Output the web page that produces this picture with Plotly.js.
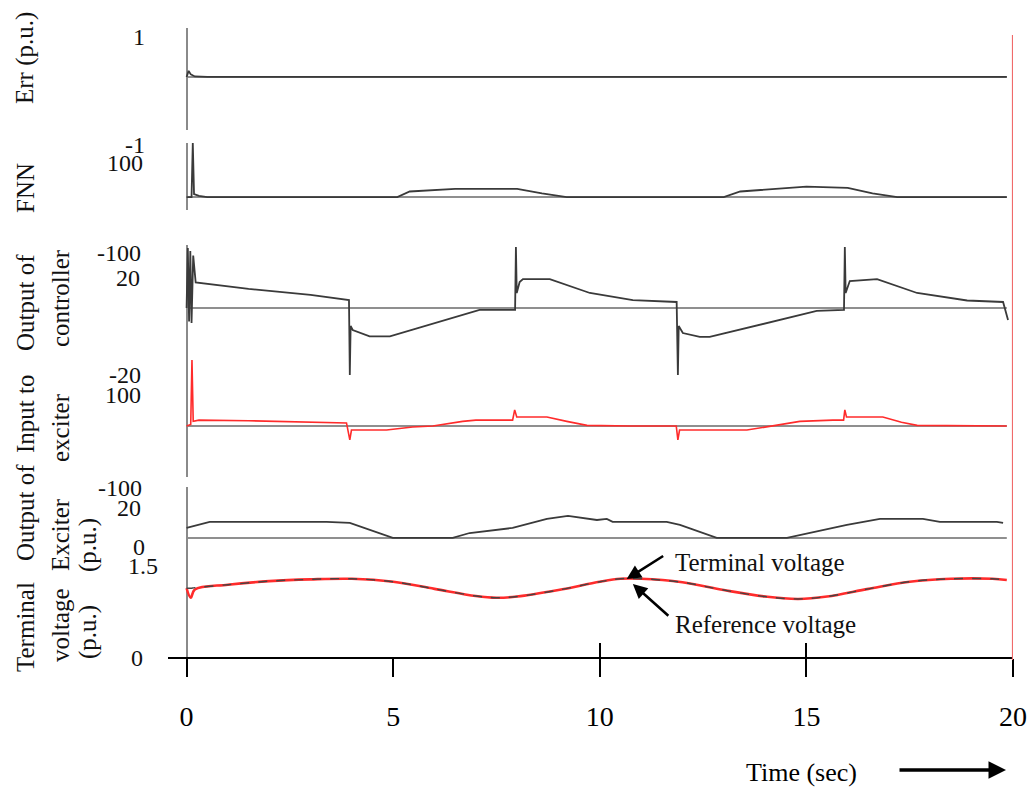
<!DOCTYPE html>
<html>
<head>
<meta charset="utf-8">
<script src="https://cdn.plot.ly/plotly-3.0.1.min.js"></script>
<style>html,body{margin:0;padding:0;background:#fff;}#chart{width:1030px;height:789px;}</style>
</head>
<body>
<div id="chart"></div>
<script>
// ---------------- DATA ----------------
// Err (p.u.)
const tErr = [0, 0.05, 0.1, 0.2, 0.5, 19.85];
const errVals = [0, 0.12, 0.05, 0.01, 0, 0];

// FNN
const tFnn = [0, 0.12, 0.15, 0.18, 0.3, 0.5, 5.1, 5.4, 6.5, 8.0, 8.6, 9.2, 13.0, 13.4, 15.0, 16.0, 16.6, 17.2, 19.85];
const fnnVals = [0, 0, 146, 8, 3, 0, 0, 15, 22, 22, 10, 0, 0, 15, 28, 25, 10, 0, 0];

// Output of controller
const tCtrl = [0, 0.03, 0.06, 0.09, 0.12, 0.16, 0.22, 1.5, 3.0, 3.93, 3.95, 3.97, 4.02, 4.43, 4.92, 7.09, 7.95, 7.97, 7.99, 8.06, 8.14, 8.79, 9.76, 10.8, 11.86, 11.89, 11.91, 12.01, 12.42, 12.66, 15.25, 15.91, 15.93, 15.95, 16.05, 16.71, 17.68, 18.89, 19.76, 19.88];
const ctrlVals = [0, 40, -9, 38, -10, 35, 17, 12.7, 8.7, 5.3, -44.7, -12, -14.7, -19, -19, -1.3, -1.3, 40.7, 10, 17.3, 19.3, 19.3, 10, 5.3, 4, -44.7, -12, -16.7, -19.3, -19.3, -2, -1.3, 40.7, 10, 18, 19.3, 10, 5, 4, -8];

// Input to exciter
const tIn = [0, 0.1, 0.13, 0.16, 0.3, 1.5, 3.87, 3.95, 3.99, 4.84, 5.47, 5.96, 6.68, 7.0, 7.89, 7.94, 7.99, 8.72, 9.2, 9.69, 10.73, 11.85, 11.89, 11.93, 13.56, 14.04, 14.84, 15.64, 15.9, 15.93, 15.97, 16.85, 17.3, 17.68, 19.85];
const inVals = [0, 5, 213, 15, 19, 17, 10, -45, -13, -13, -3, 0, 15, 19, 19, 52, 29, 29, 15, 2, 0, 0, -45, -13, -13, -2, 15, 19, 19, 52, 29, 29, 12, 2, 0];

// Output of exciter (p.u.)
const tExc = [0, 0.56, 3.39, 3.95, 4.99, 6.44, 6.85, 7.89, 8.72, 9.23, 9.93, 10.17, 10.31, 11.62, 11.94, 12.83, 14.53, 15.4, 15.98, 16.78, 17.82, 18.23, 19.61, 19.76];
const excVals = [6.7, 10.7, 10.7, 10, 0, 0, 3.3, 6.7, 12.7, 14.7, 12, 12.7, 10.7, 10.7, 8.7, 0, 0, 5.3, 8.7, 12.7, 12.7, 10.7, 10.7, 10];

// Terminal voltage / reference voltage (p.u.)
const tVolt = [0, 0.1, 0.2, 1.0, 2.0, 3.0, 4.0, 5.0, 6.0, 7.0, 7.5, 8.0, 9.0, 10.0, 10.5, 11.0, 12.0, 13.0, 14.0, 14.8, 15.5, 16.5, 17.5, 18.5, 19.5, 19.85];
const termVals = [1.16, 1.0, 1.14, 1.22, 1.28, 1.31, 1.32, 1.27, 1.15, 1.03, 1.0, 1.02, 1.13, 1.27, 1.32, 1.32, 1.26, 1.13, 1.02, 0.98, 1.02, 1.15, 1.27, 1.32, 1.32, 1.30];
const refVals  = [1.16, 1.16, 1.17, 1.22, 1.28, 1.31, 1.32, 1.27, 1.15, 1.03, 1.0, 1.02, 1.13, 1.27, 1.32, 1.32, 1.26, 1.13, 1.02, 0.98, 1.02, 1.15, 1.27, 1.32, 1.32, 1.30];

// tick labels
const xTickVals = [0, 5, 10, 15, 20];
const xTickText = ["0", "5", "10", "15", "20"];
const yTickText = ["1", "-1", "100", "-100", "20", "-20", "100", "-100", "20", "0", "1.5", "0"];
const panelTitles = [["Err (p.u.)"], ["FNN"], ["Output of", "controller"], ["Input to", "exciter"], ["Output of", "Exciter", "(p.u.)"], ["Terminal", "voltage", "(p.u.)"]];

// ---------------- LAYOUT HELPERS (positions / styles) ----------------
const W = 1030, H = 789;
const PX = x => x / W;
const PY = y => 1 - y / H;
const FONT = "Liberation Serif";
const LINE = "#3a3a3a";
const RED = "#ff2b2b";

const xDomain = [PX(168), PX(1013)];
const xRange = [-0.45, 20];
const panels = [
  {top: 28,  bottom: 130, range: [-1.04, 0.96]},
  {top: 143, bottom: 210, range: [-35, 146]},
  {top: 245, bottom: 375, range: [-44.7, 42]},
  {top: 360, bottom: 477, range: [-164.5, 213]},
  {top: 487, bottom: 545, range: [-4.7, 34]},
  {top: 545, bottom: 657, range: [0, 1.89]}
];
const yTickPos = [[147,37],[147,145],[145,163],[143,253],[142,278],[143,375],[143,395],[144,488],[143,508],[147,547],[160,566],[145,658]];
const titleCols = [25, 60, 88];
const titleY = [[58], [188], [303, 298], [414, 428], [513, 535, 545], [627, 625, 632]];

// ---------------- TRACES ----------------
const sfx = i => (i === 0 ? "" : String(i + 1));
const series = [
  {x: tErr, y: errVals, color: LINE, w: 1.8},
  {x: tFnn, y: fnnVals, color: LINE, w: 1.8},
  {x: tCtrl, y: ctrlVals, color: LINE, w: 1.8},
  {x: tIn, y: inVals, color: RED, w: 1.6},
  {x: tExc, y: excVals, color: LINE, w: 1.8}
];
const data = series.map((s, i) => ({
  type: "scatter", mode: "lines", x: s.x, y: s.y,
  xaxis: "x" + sfx(i), yaxis: "y" + sfx(i),
  line: {color: s.color, width: s.w}, showlegend: false, hoverinfo: "skip"
}));
data.push({type: "scatter", mode: "lines", x: tVolt, y: termVals, xaxis: "x6", yaxis: "y6",
  line: {color: RED, width: 2.6, shape: "spline"}, showlegend: false, hoverinfo: "skip"});
data.push({type: "scatter", mode: "lines", x: tVolt, y: refVals, xaxis: "x6", yaxis: "y6",
  line: {color: "#444", width: 1.4, dash: "dash", shape: "spline"}, showlegend: false, hoverinfo: "skip"});
data.push({type: "scatter", mode: "lines", x: [], y: [], xaxis: "x7", yaxis: "y6", showlegend: false, hoverinfo: "skip"});

// ---------------- LAYOUT ----------------
const layout = {
  width: W, height: H,
  margin: {l: 0, r: 0, t: 0, b: 0, pad: 0},
  paper_bgcolor: "#fff", plot_bgcolor: "rgba(0,0,0,0)",
  font: {family: FONT, size: 24, color: "#111"},
  showlegend: false,
  shapes: [], annotations: []
};

panels.forEach((p, i) => {
  const k = sfx(i);
  layout["xaxis" + k] = {
    domain: xDomain, range: xRange, anchor: "y" + k,
    showgrid: false, zeroline: true, zerolinecolor: "#8a8a8a", zerolinewidth: 2,
    showticklabels: false, ticks: "", showline: false, fixedrange: true
  };
  layout["yaxis" + k] = {
    domain: [PY(p.bottom), PY(p.top)], range: p.range, anchor: "x" + k,
    showgrid: false, zeroline: false, showticklabels: false, ticks: "", showline: false, fixedrange: true
  };
  if (i < 5) {
    layout.shapes.push({type: "line", xref: "x" + k, yref: "y" + k, x0: 0, x1: 19.85, y0: 0, y1: 0,
      line: {color: "#6a6a6a", width: 1.6}, layer: "below"});
  }
});
Object.assign(layout.xaxis6, {
  showline: true, linecolor: "#000", linewidth: 2.2,
  ticks: "outside", ticklen: 18, tickwidth: 2, tickcolor: "#000",
  tickvals: xTickVals, ticktext: xTickText, showticklabels: true,
  tickfont: {family: FONT, size: 28, color: "#000"}, ticklabelstandoff: 15
});
layout.xaxis7 = {
  overlaying: "x6", anchor: "y6", range: xRange, domain: xDomain,
  ticks: "inside", ticklen: 14, tickwidth: 2, tickcolor: "#000",
  tickvals: [10, 15], showticklabels: false, showgrid: false, zeroline: false, showline: false, fixedrange: true
};

layout.shapes.push({type: "line", xref: "x6", yref: "paper", x0: 20, x1: 20, y0: PY(660), y1: PY(35),
  line: {color: "#f06a6a", width: 2.2}});

yTickText.forEach((t, i) => {
  layout.annotations.push({xref: "paper", yref: "paper", x: PX(yTickPos[i][0]), y: PY(yTickPos[i][1]),
    xanchor: "right", yanchor: "middle", text: t, showarrow: false,
    font: {family: FONT, size: 24, color: "#111"}});
});
panelTitles.forEach((lines, i) => {
  lines.forEach((txt, j) => {
    layout.annotations.push({xref: "paper", yref: "paper", x: PX(titleCols[j]), y: PY(titleY[i][j]),
      xanchor: "center", yanchor: "middle", text: txt, textangle: -90, showarrow: false,
      font: {family: FONT, size: 25, color: "#111"}});
  });
});
layout.annotations.push({xref: "x6", yref: "y6", x: 10.65, y: 1.315, ax: 38, ay: -24, text: "",
  showarrow: true, arrowhead: 2, arrowsize: 1.1, arrowwidth: 2.6, arrowcolor: "#000"});
layout.annotations.push({xref: "x6", yref: "y6", x: 10.8, y: 1.23, ax: 37, ay: 33, text: "",
  showarrow: true, arrowhead: 2, arrowsize: 1.1, arrowwidth: 2.6, arrowcolor: "#000"});
layout.annotations.push({xref: "paper", yref: "paper", x: PX(673), y: PY(562), xanchor: "left", yanchor: "middle",
  text: "Terminal voltage", showarrow: false, font: {family: FONT, size: 25, color: "#111"}});
layout.annotations.push({xref: "paper", yref: "paper", x: PX(673), y: PY(624), xanchor: "left", yanchor: "middle",
  text: "Reference voltage", showarrow: false, font: {family: FONT, size: 25, color: "#111"}});
layout.annotations.push({xref: "paper", yref: "paper", x: PX(801), y: PY(772), xanchor: "center", yanchor: "middle",
  text: "Time (sec)", showarrow: false, font: {family: FONT, size: 26, color: "#000"}});
layout.annotations.push({xref: "paper", yref: "paper", x: PX(1006), y: PY(770), ax: -108, ay: 0, text: "",
  showarrow: true, arrowhead: 2, arrowsize: 1, arrowwidth: 3.5, arrowcolor: "#000"});

Plotly.newPlot("chart", data, layout, {staticPlot: true, displayModeBar: false});
</script>
</body>
</html>
